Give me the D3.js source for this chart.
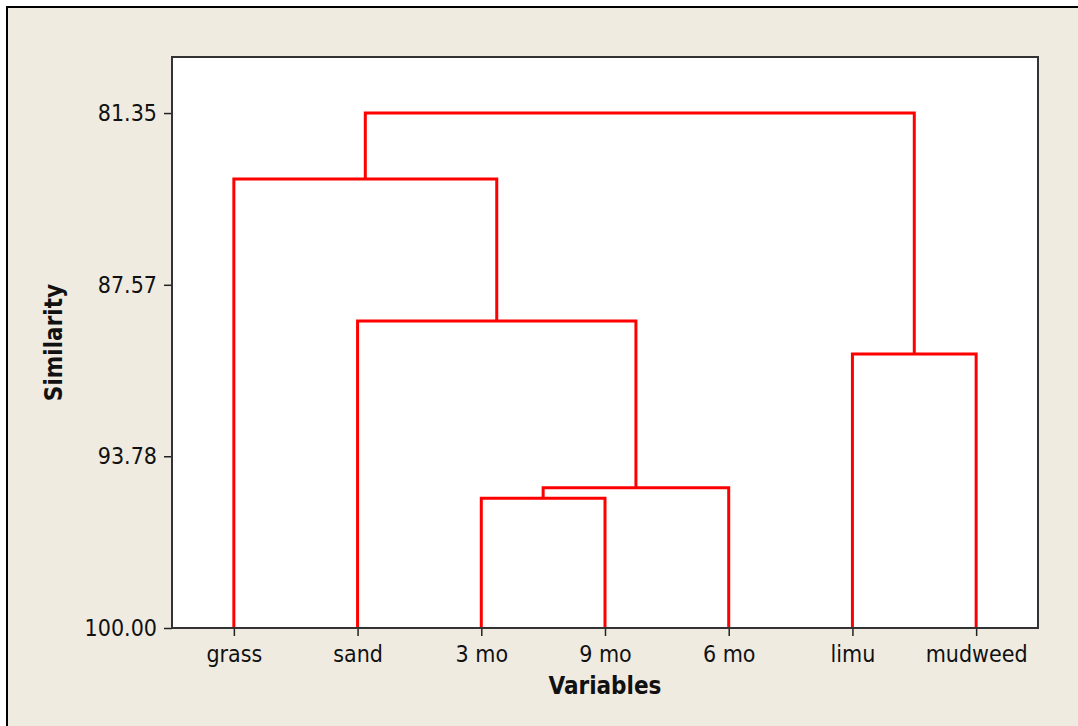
<!DOCTYPE html>
<html>
<head>
<meta charset="utf-8">
<script src="https://cdn.jsdelivr.net/npm/d3@7"></script>
<style>
  body { margin: 0; background: #fff; }
  svg { display: block; }
</style>
</head>
<body>
<div id="chart"></div>
<script>
// leaves in dendrogram order
const leaves = ['grass', 'sand', '3 mo', '9 mo', '6 mo', 'limu', 'mudweed'];
// merge steps: left / right member (leaf name or cluster id), similarity level
const mergeIds   = ['c1', 'c2', 'c3', 'c4', 'c5', 'c6'];
const mergeLeft  = ['3 mo', 'c1', 'sand', 'grass', 'limu', 'c4'];
const mergeRight = ['9 mo', '6 mo', 'c2', 'c3', 'mudweed', 'c5'];
const mergeLevel = [95.30, 94.92, 88.88, 83.74, 90.08, 81.35];
const yTicks = [81.35, 87.57, 93.78, 100.00];

const w = 1078;
const h = 726;
const margin = { top: 57, right: 40, bottom: 98, left: 172 };
const innerW = w - margin.left - margin.right;
const innerH = h - margin.top - margin.bottom;

const font = '"DejaVu Sans Condensed", "DejaVu Sans", "Liberation Sans", sans-serif';

const svg = d3.select('#chart')
  .append('svg')
  .attr('width', w)
  .attr('height', h);

// outer panel
svg.append('rect')
  .attr('x', 6).attr('y', 6)
  .attr('width', w).attr('height', h)
  .attr('fill', '#efebe1');
svg.append('path')
  .attr('d', 'M7,' + h + 'V7H' + w)
  .attr('fill', 'none')
  .attr('stroke', '#000')
  .attr('stroke-width', 2);

const g = svg.append('g')
  .attr('transform', 'translate(' + margin.left + ',' + margin.top + ')');

g.append('rect')
  .attr('width', innerW)
  .attr('height', innerH)
  .attr('fill', '#fff');

const x = d3.scalePoint()
  .domain(leaves)
  .range([0, innerW])
  .padding(0.5);

const y = d3.scaleLinear()
  .domain([79.32, 100])
  .range([0, innerH]);

// positions of leaves and clusters
const pos = {};
leaves.forEach(l => { pos[l] = { x: x(l), y: y(100) }; });
mergeIds.forEach((id, i) => {
  const a = pos[mergeLeft[i]], b = pos[mergeRight[i]];
  pos[id] = { x: (a.x + b.x) / 2, y: y(mergeLevel[i]), a: a, b: b };
});

g.selectAll('path.link')
  .data(mergeIds)
  .enter()
  .append('path')
  .attr('class', 'link')
  .attr('d', id => {
    const p = pos[id];
    return 'M' + p.a.x + ',' + p.a.y + 'V' + p.y + 'H' + p.b.x + 'V' + p.b.y;
  })
  .attr('fill', 'none')
  .attr('stroke', '#ff0000')
  .attr('stroke-width', 3)
  .attr('stroke-linejoin', 'miter');

const yAxis = d3.axisLeft(y)
  .tickValues(yTicks)
  .tickFormat(d3.format('.2f'))
  .tickSize(8)
  .tickPadding(7);

const xAxis = d3.axisBottom(x)
  .tickSize(8)
  .tickPadding(10);

g.append('g')
  .call(yAxis)
  .call(a => a.select('.domain').remove())
  .attr('font-size', 23)
  .attr('font-family', font)
  .call(a => a.selectAll('line').attr('stroke', '#222').attr('stroke-width', 1.5))
  .call(a => a.selectAll('text').attr('fill', '#111'));

g.append('g')
  .attr('transform', 'translate(0,' + innerH + ')')
  .call(xAxis)
  .call(a => a.select('.domain').remove())
  .attr('font-size', 23)
  .attr('font-family', font)
  .call(a => a.selectAll('line').attr('stroke', '#222').attr('stroke-width', 1.5))
  .call(a => a.selectAll('text').attr('fill', '#111'));

// plot frame
g.append('rect')
  .attr('width', innerW)
  .attr('height', innerH)
  .attr('fill', 'none')
  .attr('stroke', '#333')
  .attr('stroke-width', 2);

svg.append('text')
  .attr('x', margin.left + innerW / 2)
  .attr('y', 694)
  .attr('text-anchor', 'middle')
  .attr('font-family', font)
  .attr('font-size', 24)
  .attr('font-weight', 'bold')
  .attr('fill', '#111')
  .text('Variables');

svg.append('text')
  .attr('transform', 'translate(62,' + (margin.top + innerH / 2) + ') rotate(-90)')
  .attr('text-anchor', 'middle')
  .attr('font-family', font)
  .attr('font-size', 24)
  .attr('font-weight', 'bold')
  .attr('fill', '#111')
  .text('Similarity');
</script>
</body>
</html>
